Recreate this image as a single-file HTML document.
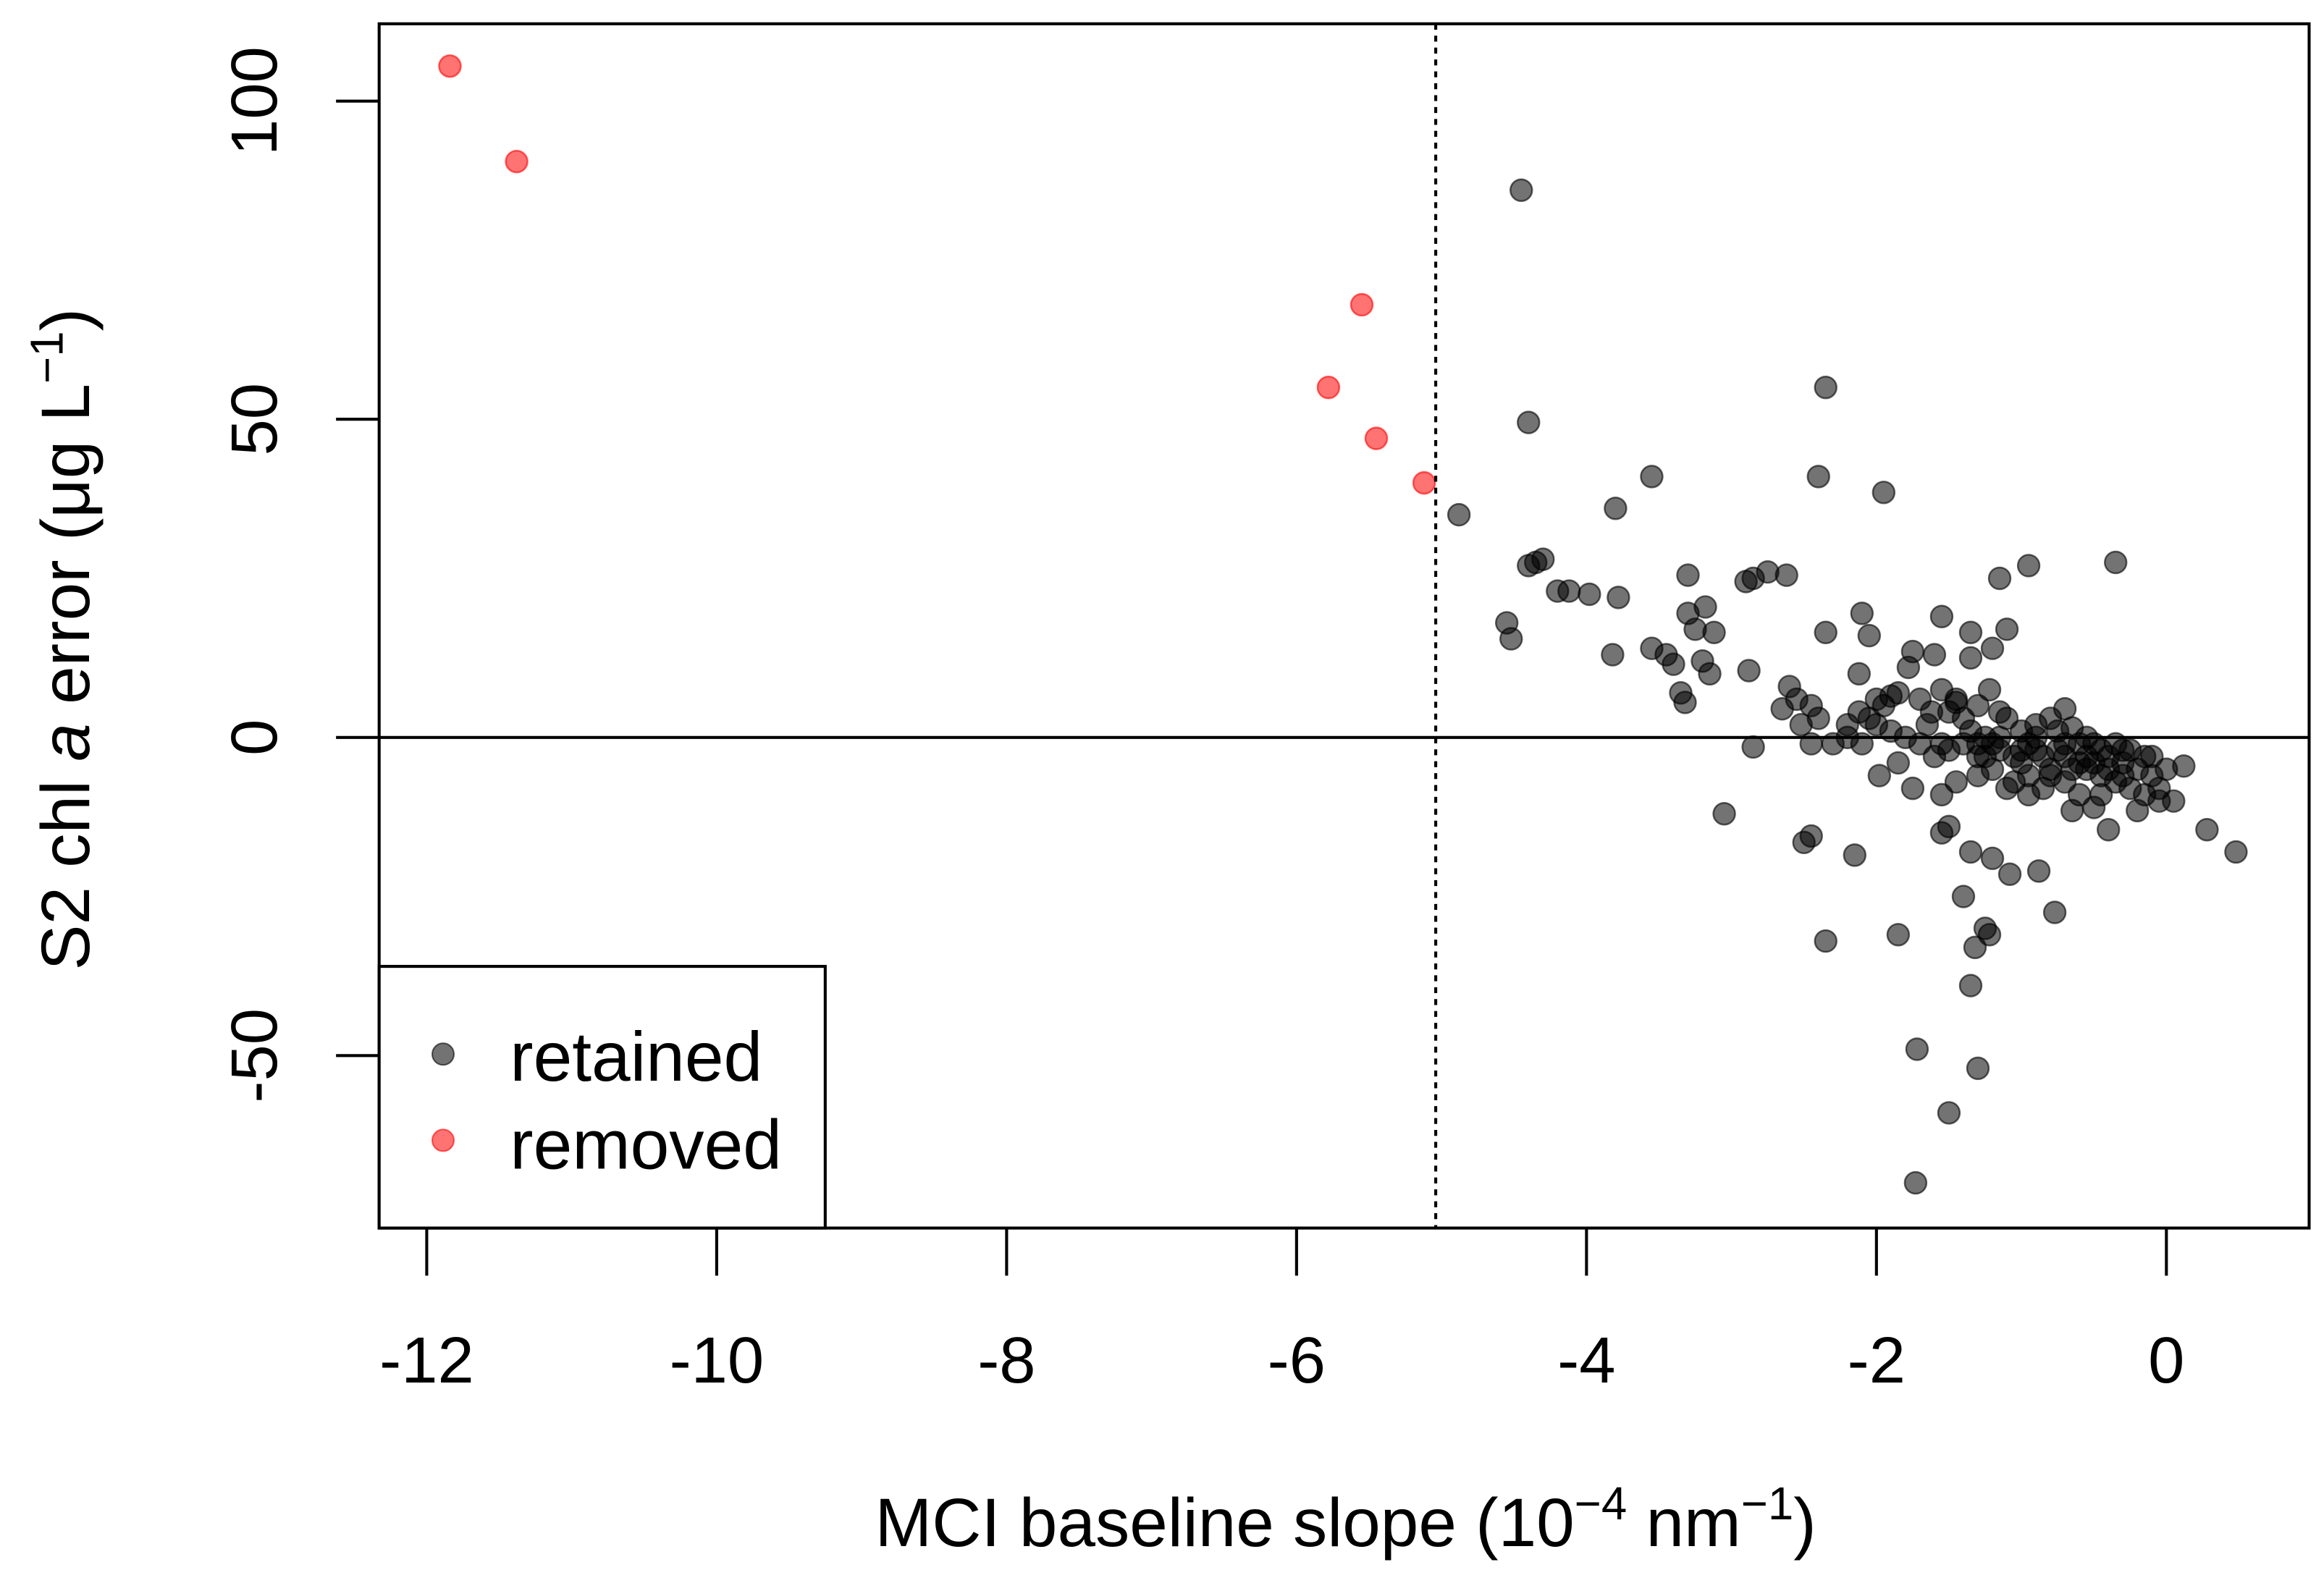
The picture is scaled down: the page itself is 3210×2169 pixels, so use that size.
<!DOCTYPE html>
<html><head><meta charset="utf-8"><style>
html,body{margin:0;padding:0;background:#fff}
svg{display:block;font-family:"Liberation Sans",Arial,sans-serif}
</style></head><body>
<svg id="chart" width="3210" height="2169" viewBox="0 0 1563 1056" preserveAspectRatio="none" xmlns="http://www.w3.org/2000/svg">
<g id="marks"></g>
</svg>
<script>
const xTicks=[-12,-10,-8,-6,-4,-2,0];
const yTicks=[-50,0,50,100];
const removedX=[-11.84,-11.38,-5.55,-5.78,-5.45,-5.12];
const removedY=[105.5,90.5,68,55,47,40];
const retainedPts=[[-4.45,86],[-4.4,49.5],[-2.35,55],[-4.88,35],[-3.55,41],[-2.4,41],[-1.95,38.5],[-3.8,36],[-4.4,27],[-4.3,28],[-4.35,27.5],[-4.2,23],[-4.12,23],[-3.98,22.5],[-3.78,22],[-3.3,25.5],[-2.9,24.5],[-2.85,25],[-2.75,26],[-2.62,25.5],[-0.95,27],[-1.15,25],[-0.35,27.5],[-4.55,18],[-4.52,15.5],[-3.3,19.5],[-3.18,20.5],[-3.25,17],[-3.12,16.5],[-2.35,16.5],[-2.1,19.5],[-2.05,16],[-1.55,19],[-1.35,16.5],[-1.1,17],[-3.82,13],[-3.55,14],[-3.45,13],[-3.4,11.5],[-3.2,12],[-3.15,10],[-2.88,10.5],[-1.75,13.5],[-1.6,13],[-1.2,14],[-1.35,12.5],[-1.78,11],[-2.12,10],[-3.35,7],[-3.32,5.5],[-2.6,8],[-2.55,6],[-2.65,4.5],[-2.45,5],[-2.52,2],[-2.4,3],[-2.2,2],[-2.12,4],[-2.0,6],[-1.9,6.5],[-1.85,7],[-1.95,5],[-1.7,6],[-1.62,4],[-1.55,7.5],[-1.45,6],[-1.4,3],[-1.3,5],[-1.22,7.5],[-1.1,3],[-1.0,1],[-0.9,2],[-0.8,3],[-0.7,4.5],[-0.65,1.5],[-0.55,0],[-0.5,-1],[-0.45,-2],[-0.4,-3],[-0.35,-1],[-0.3,-4],[-0.25,-2],[-0.2,-5],[-0.15,-3],[-0.1,-6],[-0.05,-8],[0.0,-5],[-0.6,-4],[-0.7,-3],[-0.8,-5],[-0.9,-2],[-1.0,-4],[-1.05,-7],[-1.15,-2],[-1.2,-5],[-1.3,-3],[-1.4,-1],[-1.5,-2],[-1.6,-3],[-1.7,-1],[-1.8,0],[-1.9,1],[-2.0,2],[-2.1,-1],[-2.2,0],[-2.3,-1],[-2.45,-1],[-2.85,-1.5],[-1.55,-1],[-1.25,0],[-0.95,-1],[-0.75,-2],[-0.55,-5],[-0.45,-6],[-0.35,-7],[-0.25,-8],[-0.15,-9],[-0.05,-10],[0.05,-10],[-0.2,-11.5],[-0.5,-11],[-0.65,-11.5],[-0.4,-14.5],[0.12,-4.5],[0.28,-14.5],[0.48,-18],[-3.05,-12],[-2.5,-16.5],[-2.45,-15.5],[-2.15,-18.5],[-1.55,-15],[-1.5,-14],[-1.35,-18],[-1.2,-19],[-1.08,-21.5],[-0.88,-21],[-0.77,-27.5],[-2.35,-32],[-1.85,-31],[-1.4,-25],[-1.32,-33],[-1.25,-30],[-1.22,-31],[-1.35,-39],[-1.72,-49],[-1.3,-52],[-1.5,-59],[-1.73,-70],[-1.98,-6],[-1.75,-8],[-1.55,-9],[-1.45,-7],[-1.3,-6],[-1.1,-8],[-0.95,-6],[-0.85,-8],[-0.7,-7],[-0.6,-9],[-2.05,3],[-1.65,2],[-1.35,1],[-1.15,0],[-0.85,-3],[-1.5,4],[-1.0,-2],[-0.6,-1],[-0.3,-6],[-0.1,-3],[-1.85,-4],[-1.25,-3],[-0.5,-4],[-1.45,5.5],[-1.15,4],[-0.9,0],[-0.75,1],[-0.65,-5],[-0.95,-9],[-1.2,-1],[-0.55,-3],[-0.4,-5],[-0.7,-1],[-1.05,-3],[-0.3,-2],[-0.8,-6],[-1.3,-1],[-0.45,-9]];
const cutoff=-5.04;

const NS="http://www.w3.org/2000/svg";
const svg=document.getElementById('chart');
const marks=document.getElementById('marks');
const X=v=>1457+v*97.5;
const Y=v=>496-v*4.28;
function mk(tag,attrs,parent,text){const e=document.createElementNS(NS,tag);for(const k in attrs)e.setAttribute(k,attrs[k]);if(text!==undefined)e.textContent=text;(parent||svg).appendChild(e);return e;}

let e=mk('rect',{x:255,y:16,width:1298,height:810,fill:'none',stroke:'#000','stroke-width':2});


e=mk('line',{x1:255,x2:1553,y1:Y(0),y2:Y(0),stroke:'#000','stroke-width':2});


e=mk('line',{x1:X(cutoff),x2:X(cutoff),y1:16,y2:826,stroke:'#000','stroke-width':2,'stroke-dasharray':'4,4'});



xTicks.forEach(t=>{
  let l=mk('line',{x1:X(t),x2:X(t),y1:826,y2:858,stroke:'#000','stroke-width':2});
  
  
  let s=mk('text',{x:X(t),y:930,'font-size':44,'text-anchor':'middle'},svg,String(t));
  
  
});
yTicks.forEach(t=>{
  let l=mk('line',{x1:226,x2:255,y1:Y(t),y2:Y(t),stroke:'#000','stroke-width':2});
  
  
  let s=mk('text',{x:0,y:0,'font-size':44,'text-anchor':'middle',transform:`translate(186,${Y(t)}) rotate(-90)`},svg,String(t));
  
  
});

retainedPts.forEach(p=>{
  let c=mk('circle',{cx:X(p[0]),cy:Y(p[1]),r:7.3,fill:'rgba(0,0,0,0.55)',stroke:'rgba(0,0,0,0.6)','stroke-width':1.2},marks);
  
  
});
removedX.forEach((x,i)=>{
  let c=mk('circle',{cx:X(x),cy:Y(removedY[i]),r:7.3,fill:'rgba(255,0,0,0.55)',stroke:'rgba(255,0,0,0.6)','stroke-width':1.2},marks);
  
  
});

e=mk('rect',{x:255,y:650,width:300,height:176,fill:'#fff',stroke:'#000','stroke-width':2});


e=mk('circle',{cx:298,cy:709,r:7.3,fill:'rgba(0,0,0,0.55)',stroke:'rgba(0,0,0,0.6)'});


e=mk('text',{x:343,y:727,'font-size':47},svg,'retained');


e=mk('circle',{cx:298,cy:767,r:7.3,fill:'rgba(255,0,0,0.55)',stroke:'rgba(255,0,0,0.6)'});


e=mk('text',{x:343,y:786,'font-size':47},svg,'removed');



e=mk('text',{x:905,y:1040,'font-size':46,'text-anchor':'middle'},svg);
e.innerHTML='MCI baseline slope (10<tspan dy="-18" font-size="31">−4</tspan><tspan dy="18"> nm</tspan><tspan dy="-18" font-size="31">−1</tspan><tspan dy="18">)</tspan>';


e=mk('text',{x:0,y:0,'font-size':46,'text-anchor':'middle',transform:'translate(60,430) rotate(-90)'},svg);
e.innerHTML='S2 chl <tspan font-style="italic">a</tspan> error (μg L<tspan dy="-18" font-size="31">−1</tspan><tspan dy="18">)</tspan>';


</script>
</body></html>
